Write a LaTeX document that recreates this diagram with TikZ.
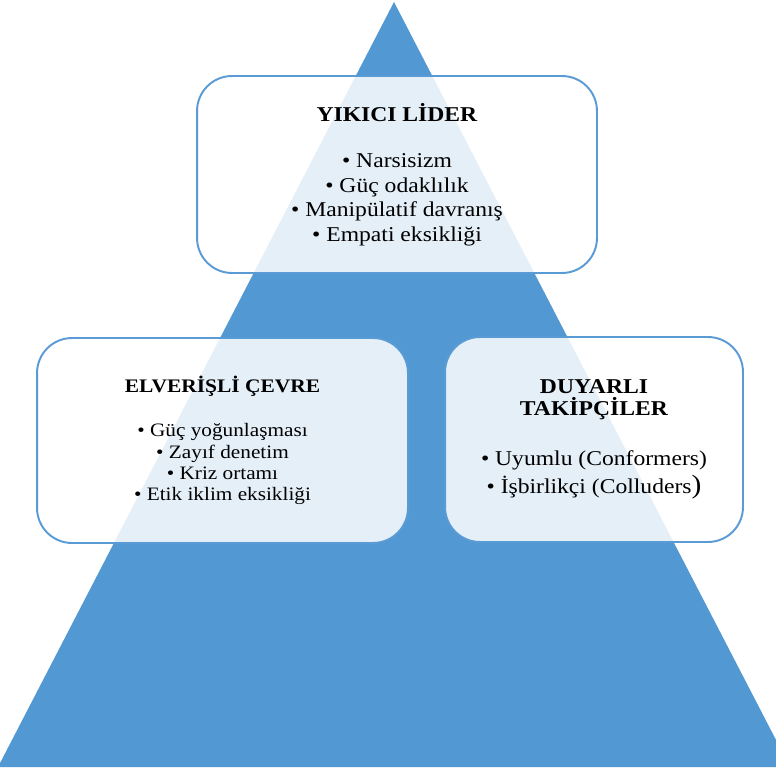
\documentclass[tikz,border=0pt]{standalone}
\usepackage{fontspec}
\setmainfont{Liberation Serif}[FakeStretch=1.12]
\usetikzlibrary{positioning}
\definecolor{PyrBlue}{HTML}{5298D2}
\definecolor{BoxLine}{HTML}{5B9BD5}

\begin{document}
\begin{tikzpicture}[x=0.02cm, y=-0.02cm,
  box/.style={draw=BoxLine, line width=1.1pt, fill=white, fill opacity=0.85, text opacity=1, rounded corners=0.7cm, align=center, inner sep=0pt}]
  \useasboundingbox (0,0) rectangle (776,767);
  % Pyramid
  \fill[PyrBlue] (394,2) -- (790,767) -- (-2,767) -- cycle;
  % Leader
  \node[box, minimum width=8cm, minimum height=3.94cm, font=\fontsize{12}{14}\selectfont] (L) at (397,174.5)
    {\textbf{YIKICI LİDER}\\[12.5pt]
     • Narsisizm\\ • Güç odaklılık\\ • Manipülatif davranış\\ • Empati eksikliği};
  % Environment
  \node[box, minimum width=7.42cm, minimum height=4.1cm, font=\fontsize{10.8}{12.1}\selectfont] (C) at (222.5,440.5)
    {{\fontsize{10.9}{12.1}\selectfont\bfseries ELVERİŞLİ ÇEVRE}\\[13pt]
     • Güç yoğunlaşması\\ • Zayıf denetim\\ • Kriz ortamı\\ • Etik iklim eksikliği};
  % Followers
  \node[box, minimum width=5.96cm, minimum height=4.1cm, font=\fontsize{12}{16}\selectfont] (T) at (594,439.5)
    {\textbf{DUYARLI}\\[-3.5pt] \textbf{TAKİPÇİLER}\\[12.5pt]
     • Uyumlu (Conformers)\\ • İşbirlikçi (Colluders{\fontsize{15}{16}\selectfont )}};
\end{tikzpicture}
\end{document}
